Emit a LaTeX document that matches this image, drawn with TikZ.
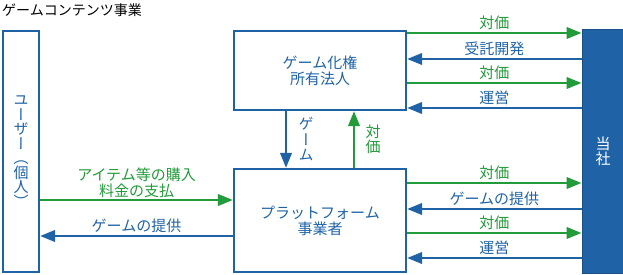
\documentclass[tikz,border=0pt]{standalone}
\usepackage{fontspec}
\setmainfont{Noto Sans CJK JP}
\newfontfamily\cjkvert[RawFeature=+vert]{Noto Sans CJK JP}
\usepackage{tikz}
\usetikzlibrary{arrows.meta,positioning,calc}
\definecolor{corpblue}{RGB}{31,99,166}
\definecolor{paygreen}{RGB}{34,155,58}
\colorlet{corpedge}{corpblue!80!black}

\begin{document}
\begin{tikzpicture}[
  x=1pt, y=-1pt,
  font=\fontsize{15}{16}\selectfont,
  every node/.style={inner sep=0pt},
  entity/.style={draw=corpblue, line width=2.3pt, text=corpblue, align=center},
  vtext/.style={font=\cjkvert\fontsize{15}{15.5}\selectfont, align=center},
  flowline/.style={line width=2.3pt},
  pay/.style={flowline, color=paygreen},
  work/.style={flowline, color=corpblue},
  flowlab/.style={anchor=base, yshift=4.5pt},
  >={Triangle[length=15pt, width=11.5pt]},
]
  \useasboundingbox (0,0) rectangle (623,275);
  \node[anchor=west, font=\fontsize{14}{16}\selectfont] (title) at (2,10) {ゲームコンテンツ事業};

  % boxes
  \node[entity, vtext, font=\cjkvert\fontsize{15}{14.5}\selectfont, minimum width=36pt, minimum height=241pt] (user) at (21,151.5) {ユ\\ー\\ザ\\ー\\（\\個\\人\\）};
  \node[entity, minimum width=172pt, minimum height=79pt] (owner) at (320,70.5) {ゲーム化権\\所有法人};
  \node[entity, minimum width=172pt, minimum height=103pt] (platform) at (320,220.5) {プラットフォーム\\事業者};
  \node[draw=corpedge, fill=corpblue, line width=1pt, vtext, text=white, minimum width=42pt, minimum height=243pt] (corp) at (603,151.5) {当\\社};

  % flows to and from the company
  \foreach \bx/\y/\kind/\dir/\lab in {owner/33/pay/->/対価, owner/59/work/<-/受託開発, owner/83/pay/->/対価, owner/108/work/<-/運営,
      platform/183/pay/->/対価, platform/209/work/<-/ゲームの提供, platform/233/pay/->/対価, platform/258/work/<-/運営} {
    \draw[\kind, \dir] (\bx.east |- 0,\y) -- (corp.west |- 0,\y) node[midway, flowlab] {\lab};
  }

  % between owner and platform
  \draw[work, ->] ([xshift=-34pt]owner.south) -- ([xshift=-34pt]platform.north) node[midway, right=11.5pt, vtext] {ゲ\\ー\\ム};
  \draw[pay, ->] ([xshift=34pt]platform.north) -- ([xshift=34pt]owner.south) node[midway, right=10.5pt, vtext] {対\\価};

  % user side
  \draw[pay, ->] (user.east |- 0,200) -- (platform.west |- 0,200) node[midway, anchor=south, yshift=1.5pt, align=center] {アイテム等の購入\\料金の支払};
  \draw[work, ->] (platform.west |- 0,236) -- (user.east |- 0,236) node[midway, flowlab] {ゲームの提供};
\end{tikzpicture}
\end{document}
